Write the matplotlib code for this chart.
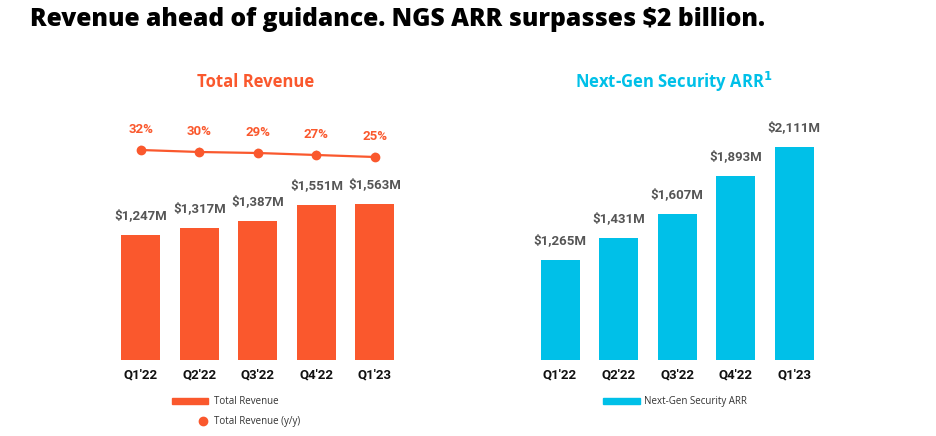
import matplotlib.pyplot as plt
from matplotlib.patches import Rectangle
from matplotlib.lines import Line2D
import numpy as np

quarters = ["Q1'22", "Q2'22", "Q3'22", "Q4'22", "Q1'23"]
revenue = [1247, 1317, 1387, 1551, 1563]
revenue_yy = [32, 30, 29, 27, 25]
ngs_arr = [1265, 1431, 1607, 1893, 2111]

ORANGE = '#FA582D'
CYAN = '#00C0E8'
GRAY = '#555555'
W, H = 937, 436

plt.rcParams['font.family'] = ['Roboto', 'DejaVu Sans']

fig = plt.figure(figsize=(W / 100, H / 100), dpi=100)


def box(x0, y_bottom, w, h):
    # pixel box (top-left origin) -> figure fractions
    return [x0 / W, (H - y_bottom) / H, w / W, h / H]


def fx(x):
    return x / W


def fy(y):
    return 1 - y / H


fig.text(fx(30), fy(20), 'Revenue ahead of guidance. NGS ARR surpasses $2 billion.',
         fontsize=17.75, fontweight='heavy', family=['Open Sans', 'DejaVu Sans'],
         va='center', ha='left', color='black')

x = np.arange(len(quarters))
bw = 0.667


def style(ax):
    for s in ax.spines.values():
        s.set_visible(False)
    ax.set_yticks([])
    ax.set_xticks(x)
    ax.set_xticklabels(quarters, fontsize=9.5, fontweight='bold', color='#111111')
    ax.tick_params(axis='x', length=0, pad=6)
    ax.patch.set_alpha(0)


# left: total revenue
ax = fig.add_axes(box(100, 360, 320, 260))
ax.bar(x, revenue, width=bw, color=ORANGE)
ax.set_xlim(-0.70, 4.77)
ax.set_ylim(0, 2600)
style(ax)
for i, v in enumerate(revenue):
    ax.annotate(f'${v:,}M', (i, v), xytext=(0, 14), textcoords='offset points',
                ha='center', va='center', fontsize=9.5, fontweight='bold', color=GRAY)

ax2 = ax.twinx()
ax2.set_ylim(-178, 82)
for s in ax2.spines.values():
    s.set_visible(False)
ax2.set_yticks([])
for i, v in enumerate(revenue_yy):
    ax2.annotate(f'{v}%', (i, v), xytext=(0, 15), textcoords='offset points',
                 ha='center', va='center', fontsize=9.5, fontweight='bold', color=ORANGE,
                 arrowprops=dict(arrowstyle='-', color='#d8d8d8', lw=0.6,
                                 shrinkA=5, shrinkB=4))
ax2.plot(x, revenue_yy, color=ORANGE, lw=1.6, marker='o', ms=6, zorder=5)

fig.text(fx(256), fy(82), 'Total Revenue', fontsize=12, fontweight='bold',
         family=['Open Sans', 'DejaVu Sans'], color=ORANGE, ha='center', va='center')

# right: next-gen security ARR
bx = fig.add_axes(box(520, 360, 320, 260))
bx.bar(x, ngs_arr, width=bw, color=CYAN)
bx.set_xlim(-0.684, 4.786)
bx.set_ylim(517, 2463)
style(bx)
for i, v in enumerate(ngs_arr):
    bx.annotate(f'${v:,}M', (i, v), xytext=(0, 14), textcoords='offset points',
                ha='center', va='center', fontsize=9.5, fontweight='bold', color=GRAY)

fig.text(fx(674), fy(82), r'Next-Gen Security ARR$^{\mathbf{1}}$', fontsize=12,
         fontweight='bold', family=['Open Sans', 'DejaVu Sans'], color=CYAN,
         ha='center', va='center')

# legends
lfont = dict(fontsize=7, family=['Open Sans', 'DejaVu Sans'], color='#333333',
             va='center', ha='left')
fig.add_artist(Rectangle((fx(172), fy(404)), fx(36), 6 / H, color=ORANGE,
                         transform=fig.transFigure))
fig.text(fx(214), fy(401), 'Total Revenue', **lfont)
fig.add_artist(Line2D([fx(203)], [fy(421)], marker='o', ms=6, color=ORANGE,
                      transform=fig.transFigure))
fig.text(fx(214), fy(421), 'Total Revenue (y/y)', **lfont)
fig.add_artist(Rectangle((fx(603), fy(404)), fx(37), 6 / H, color=CYAN,
                         transform=fig.transFigure))
fig.text(fx(644), fy(401), 'Next-Gen Security ARR', **lfont)

fig.savefig('out.png', dpi=100)
